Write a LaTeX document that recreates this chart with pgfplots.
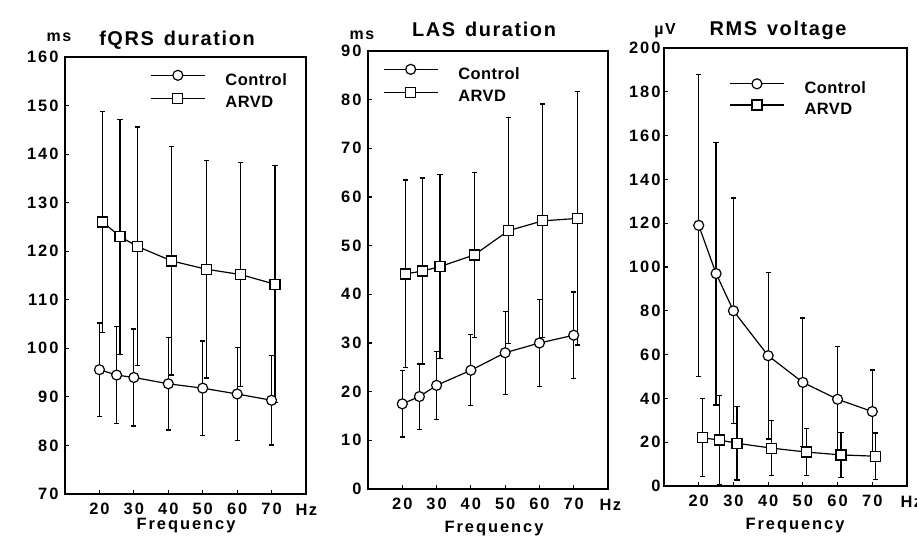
\documentclass[border=0pt]{standalone}
\usepackage{pgfplots}
\pgfplotsset{compat=1.18}
\usepackage{fontspec}
\setmainfont{Liberation Sans}
\newfontfamily\tickfont{Liberation Sans}[LetterSpace=12]
\newfontfamily\legfont{Liberation Sans}[LetterSpace=3]
\newfontfamily\titlefont{Liberation Sans}[LetterSpace=8]

\pgfplotsset{
  panel/.style={
    scale only axis, anchor=south west,
    xmin=10, xmax=80, xtick={20,30,...,70},
    xtick pos=bottom, ytick pos=left, tick align=inside,
    major tick length=4bp,
    axis line style={line width=1.5bp},
    tick style={line width=1.1bp, black},
    /pgf/number format/assume math mode=true,
    ticklabel style={font=\tickfont\bfseries\fontsize{16.5}{18}\selectfont},
    xticklabel style={yshift=-5bp},
    legend style={draw=none, fill=none, inner sep=0pt, row sep=5bp,
      column sep=18bp, anchor=north west,
      font=\legfont\bfseries\fontsize{16.5}{18}\selectfont},
    legend cell align=left,
    legend image code/.code={
      \draw[##1, mark repeat=2, mark phase=2] plot coordinates {(0bp,4.5bp) (27bp,4.5bp) (54bp,4.5bp)};},
    every axis plot/.append style={black, line width=1.2bp},
  },
  ebar/.style={forget plot, only marks, mark=none,
    error bars/.cd, y dir=both, y explicit,
    error bar style={line width=1.2bp, black},
    error mark=-,
    error mark options={rotate=90, line width=1.2bp, mark size=2.6bp, black}},
  ctrl/.style={mark=*, mark size=5bp, mark options={fill=white, line width=1.2bp}},
  arvd/.style={mark=square*, mark size=5bp, mark options={fill=white, line width=1.2bp}},
}

% fQRS duration
\pgfplotstableread{
x y e
20 95.6 9.6
25 94.5 10
30 94.0 10
40 92.7 9.5
50 91.8 9.7
60 90.6 9.6
70 89.3 9.2
}\fqrsc
\pgfplotstableread{
x y e
21 126.0 22.8
26 123.0 24.2
31 121.0 24.6
41 118.0 23.5
51 116.3 22.4
61 115.2 23.0
71 113.2 24.4
}\fqrsa
% LAS duration
\pgfplotstableread{
x y e
20 17.5 6.8
25 19.0 6.7
30 21.3 7.0
40 24.4 7.3
50 28.0 8.5
60 30.0 8.9
70 31.6 8.9
}\lasc
\pgfplotstableread{
x y e
21 44.2 19.3
26 44.8 19.1
31 45.7 18.9
41 48.1 17.0
51 53.1 23.2
61 55.1 24.0
71 55.6 26.0
}\lasa
% RMS voltage
\pgfplotstableread{
x y e
20 119.0 69.0
25 97.0 60.0
30 80.0 51.5
40 59.5 38.0
50 47.3 29.4
60 39.6 24.2
70 34.0 19.0
}\rmsc
\pgfplotstableread{
x y e
21 22.0 17.8
26 21.0 20.5
31 19.5 16.8
41 17.3 12.6
51 15.5 10.7
61 14.2 10.3
71 13.6 10.6
}\rmsa

\begin{document}
\begin{tikzpicture}[x=1bp,y=1bp]
\path[use as bounding box, fill=white] (0,0) rectangle (917,-543);

\begin{axis}[panel, at={(65bp,-494bp)}, width=241bp, height=437bp,
  ymin=70, ymax=160, ytick={70,80,...,160},
  yticklabel style={xshift=-3bp},
  legend style={at={(0.353,0.970)}}]
\addplot[ebar] table[x=x, y=y, y error=e] {\fqrsc};
\addplot[ebar] table[x=x, y=y, y error=e] {\fqrsa};
\addplot[ctrl] table[x=x, y=y] {\fqrsc};
\addplot[arvd] table[x=x, y=y] {\fqrsa};
\legend{Control, ARVD}
\end{axis}

\begin{axis}[panel, at={(368bp,-489bp)}, width=240bp, height=438bp,
  ymin=0, ymax=90, ytick={0,10,...,90},
  yticklabel style={xshift=-3bp},
  legend style={at={(0.062,0.970)}}]
\addplot[ebar] table[x=x, y=y, y error=e] {\lasc};
\addplot[ebar] table[x=x, y=y, y error=e] {\lasa};
\addplot[ctrl] table[x=x, y=y] {\lasc};
\addplot[arvd] table[x=x, y=y] {\lasa};
\legend{Control, ARVD}
\end{axis}

\begin{axis}[panel, at={(664bp,-486bp)}, width=243bp, height=438bp,
  ymin=0, ymax=200, ytick={0,20,...,200},
  legend style={at={(0.268,0.93)}, row sep=3bp}]
\addplot[ebar] table[x=x, y=y, y error=e] {\rmsc};
\addplot[ebar] table[x=x, y=y, y error=e] {\rmsa};
\addplot[ctrl] table[x=x, y=y] {\rmsc};
\addplot[arvd] table[x=x, y=y] {\rmsa};
\legend{Control, ARVD}
\end{axis}

\begin{scope}[font=\titlefont\bfseries\fontsize{20}{22}\selectfont]
\node[anchor=base] at (177,-46) {fQRS\hspace{10bp}duration};
\node[anchor=base] at (484,-37) {LAS\hspace{10bp}duration};
\node[anchor=base] at (778,-36) {RMS\hspace{10bp}voltage};
\end{scope}
\begin{scope}[font=\bfseries\fontsize{16}{18}\selectfont]
\node[anchor=base] at (59,-42) {m\hspace{1.5bp}s};
\node[anchor=base] at (362,-40) {m\hspace{1.5bp}s};
\node[anchor=base] at (665,-35) {µ\hspace{1.5bp}V};
\end{scope}
\begin{scope}[font=\tickfont\bfseries\fontsize{16.5}{18}\selectfont]
\node[anchor=base] at (186,-529) {Frequency};
\node[anchor=base] at (494,-532) {Frequency};
\node[anchor=base] at (795,-529) {Frequency};
\node[anchor=base west] at (292,-515) {H\hspace{1.5bp}z};
\node[anchor=base west] at (596,-510) {H\hspace{1.5bp}z};
\node[anchor=base west] at (897,-507) {H\hspace{1.5bp}z};
\end{scope}
\end{tikzpicture}
\end{document}
